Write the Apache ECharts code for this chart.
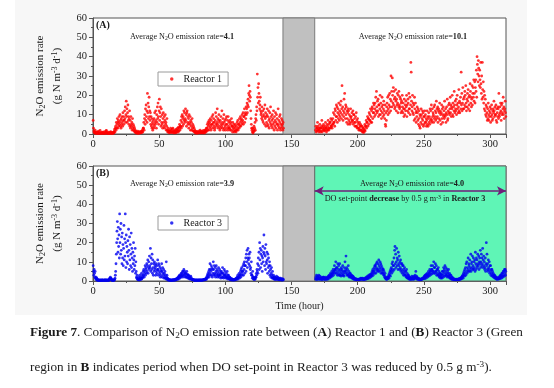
<!DOCTYPE html>
<html><head><meta charset="utf-8">
<script src="https://cdn.jsdelivr.net/npm/echarts@6/dist/echarts.min.js"></script>
<style>html,body{margin:0;padding:0;background:#fff}#c{width:554px;height:388px}</style>
</head><body><div id="c"></div>
<script>
// hours of each block start, values per hour (4 readings per hour)
const r1StartA = 0;
const r1BlockA = [
[7,3,1.5,0.8],[1,0.5,2,0.7],[0.4,0.8,0.3,1],[0.5,0.3,0.9,0.4],[1.5,0.6,0.4,0.3],[0.5,1.8,0.7,0.4],[0.3,0.5,0.8,0.6],[0.4,1,0.5,0.3],[0.6,0.4,1.2,0.5],[0.3,0.8,0.5,1.6],
[1.8,0.7,0.4,0.6],[0.5,0.3,0.9,0.4],[0.4,0.6,0.3,0.8],[0.5,1.2,0.7,0.4],[0.3,0.5,0.6,0.4],[0.8,0.4,1,0.6],[1.5,2.5,1,3],[4,2,6,3],[5,8,3,6],[7,4,9,5],
[6,10,4,7],[3,8,5,9],[6,4,11,7],[9,5,7,12],[8,14,6,10],[17,9,13,6],[11,15,7,9],[5,8,12,4],[7,3,9,5],[4,6,2,8],
[3,5,2,4],[1.5,3,1,2],[0.8,1.5,0.5,1],[0.6,1,0.4,1.5],[0.5,0.8,0.3,1],[0.7,1.2,0.5,0.9],[1,0.6,1.5,0.8],[1.5,2,1,3],[3,6,2,8],[10,5,13,7],
[15,9,12,6],[21,11,16,8],[14,19,9,12],[7,11,5,9],[4,8,3,6],[2,5,7,3],[8,4,11,6],[5,12,7,3],[10,6,14,8],[16,9,5,12],
[18,7,11,14],[9,4,13,6],[5,10,3,8],[11,6,4,9],[3,7,10,5],[6,2,4,8],[2,1,3,1.5],[1,2,0.6,1.5],[0.8,1.5,3,1],[2,0.7,1.2,2.5],
[1,3,0.8,1.5],[0.5,1.2,2,0.8],[1.5,0.6,1,2.5],[0.8,2,1.5,3],[2,1,3.5,1.5],[3,5,2,4],[4,7,3,9],[6,10,4,8],[9,5,12,7],[11,6,8,13],
[7,10,4,11],[12,6,9,5],[8,3,10,6],[5,9,2,7],[4,6,2,8],[3,5,1.5,4],[1.5,3,1,2],[1,0.5,1.5,0.8],[0.6,1.2,0.4,1],[0.8,0.5,1.5,0.7],
[1,0.6,0.9,2],[0.5,1.3,0.8,0.6],[1.5,0.7,1,0.5],[0.8,1.8,0.6,1.2],[1,0.5,2,1.5],[2,1,3,1.5],[3,5,2,6],[4,2,7,5],[6,3,8,4],[2,7,5,9],
[5,3,10,6],[8,4,6,2],[3,7,11,5],[9,4,6,13],[5,8,3,7],[10,4,6,2],[7,3,9,5],[4,12,6,3],[8,5,2,10],[6,3,7,4],
[2,8,5,9],[5,3,7,2],[9,4,6,3],[3,7,2,5],[6,2,8,4],[4,1,6,3],[2,5,1,4],[3,1.5,5,2],[1,4,2,6],[3,7,2,5],
[5,3,8,4],[6,9,4,7],[8,5,10,6],[7,11,5,9],[9,13,6,10],[11,8,14,10],[13,16,11,15],[18,14,21,25],[20,17,22,19],[12,8,5,3],
[2,1,3,0.5],[1,2,4,1.5],[3,6,2,8],[10,7,14,12],[31,19,24,16],[26,21,17,13],[15,19,12,10],[11,8,14,9],[7,12,6,10],[13,9,5,15],
[8,11,4,9],[6,10,13,5],[9,4,12,7],[3,8,11,6],[14,5,9,4],[7,10,3,8],[5,12,6,2],[9,4,7,11],[3,6,10,5],[8,2,5,13],
[4,7,3,9],[6,10,2,5],[3,8,4,7],[5,2,6,3]
];
const r1StartB = 168;
const r1BlockB = [
[2,4,1,3],[1.5,3,6,2],[4,2,1,3],[2,5,3,1],[3,1.5,4,7],[1,3,2,4],[5,2,3,1.5],[2,4,6,3],[3,1,2,5],[4,2,7,3],
[2,5,3,6],[6,3,8,4],[4,7,3,5],[8,5,11,6],[6,10,4,13],[12,7,9,15],[9,14,6,11],[13,8,16,10],[7,12,9,15],[11,17,8,13],
[25,10,14,7],[12,9,18,11],[21,13,8,15],[10,14,6,12],[8,11,5,13],[12,7,10,6],[5,9,13,8],[9,6,11,7],[7,12,5,10],[10,6,8,4],
[6,9,4,11],[4,7,3,8],[6,3,5,2],[3,6,2,4],[5,2,4,1.5],[2,4,1,3],[1,3,0.8,2],[2,5,1.5,4],[4,7,3,6],[6,9,4,8],
[8,5,11,7],[10,7,13,6],[9,12,6,14],[13,8,11,16],[11,15,9,13],[16,10,19,12],[22,14,11,17],[12,18,9,15],[15,10,13,20],[10,16,12,8],
[14,19,11,15],[9,13,17,10],[12,8,15,5],[4,11,7,14],[16,12,19,10],[13,20,15,11],[21,14,18,12],[30,17,22,14],[29,20,16,24],[15,22,18,13],
[19,14,23,17],[12,18,15,21],[16,11,20,14],[22,15,13,19],[14,18,11,16],[17,12,20,14],[11,16,13,9],[18,13,10,15],[12,17,14,20],[9,15,12,18],
[16,11,21,13],[13,19,10,15],[37,32,17,12],[14,20,11,16],[10,15,7,19],[13,8,16,11],[6,12,9,14],[11,7,13,5],[8,12,4,10],[3,9,6,13],
[10,5,8,12],[7,11,4,9],[5,9,12,6],[10,6,8,4],[7,12,5,9],[4,8,11,6],[9,5,13,7],[12,8,15,6],[7,13,9,11],[10,6,14,8],
[15,9,12,7],[11,17,8,13],[9,14,6,12],[13,8,11,16],[7,12,10,5],[11,15,8,13],[6,10,14,9],[12,8,17,10],[9,13,6,11],[14,10,18,7],
[8,12,15,11],[16,10,13,19],[11,15,9,14],[13,20,10,16],[9,14,12,22],[15,11,17,13],[12,18,10,15],[20,13,16,11],[14,23,12,17],[11,16,19,13],
[32,15,21,12],[16,24,13,18],[13,19,15,22],[20,14,25,16],[12,18,14,21],[17,23,13,19],[15,20,12,26],[22,16,19,14],[18,25,15,21],[24,19,28,17],
[21,27,16,24],[28,22,33,19],[40,36,31,27],[38,34,30,25],[33,28,24,37],[26,21,30,18],[37,23,19,27],[16,22,13,20],[12,18,10,15],[9,14,11,7],
[13,8,16,10],[7,12,9,14],[11,6,13,9],[15,10,7,12],[8,13,11,17],[12,9,14,10],[10,15,7,13],[6,11,9,14],[13,8,21,10],[9,14,11,16],
[12,7,15,10],[16,11,13,19],[10,14,8,12],[13,17,11,9]
];
const r3StartA = 0;
const r3BlockA = [
[8,5,3,6],[4,2,5,1.5],[1,2,0.6,1.5],[0.5,0.8,0.3,0.6],[0.4,0.3,0.6,0.5],[0.3,0.5,0.4,0.3],[0.6,0.4,0.3,0.5],[0.4,0.6,0.5,0.3],[0.3,0.5,0.4,0.6],[0.5,0.3,0.6,0.4],
[0.4,0.5,0.3,0.5],[0.6,0.4,0.5,0.3],[0.5,1,1.5,0.8],[2,1.5,0.7,1.2],[0.5,0.4,0.6,0.3],[0.4,0.6,0.3,0.5],[0.5,0.8,1.5,3],[5,9,14,20],[26,31,22,15],[28,18,24,12],
[35,20,27,14],[30,16,23,9],[25,12,19,8],[17,29,11,22],[13,35,20,7],[24,10,18,15],[9,21,13,27],[16,6,23,11],[19,8,14,25],[7,17,12,5],
[15,9,20,11],[6,13,8,17],[4,10,5,2],[1.5,3,0.8,1],[0.6,1.2,2,0.5],[1,3,0.7,1.5],[2,0.8,4,1.2],[1.5,3,2,5],[3,6,2,4],[5,8,3,7],
[6,4,9,5],[8,11,4,7],[10,6,13,8],[7,17,5,12],[9,6,14,4],[11,7,3,9],[5,10,6,8],[7,3,9,5],[4,8,6,11],[6,3,9,5],
[8,4,7,2],[3,6,5,9],[5,2,7,4],[3,6,1.5,4],[2,5,3,1.5],[1,10,2,3],[0.8,1.5,0.5,1],[0.5,0.8,0.4,0.6],[0.4,0.6,0.5,0.3],[0.6,0.5,0.3,0.5],
[0.4,0.7,0.5,0.6],[0.5,0.4,0.8,0.5],[0.7,1,0.5,0.8],[1,1.5,0.8,1.2],[1.5,2,1,2.5],[2,3,1.5,2.5],[3,2,4,2.5],[4,3,5,2],[5,3,6,4],[3,5,2,4],
[4,2,3,5],[2,3.5,1.5,3],[3,1.5,2.5,1],[1.5,2,1,2.5],[1,1.5,0.8,1],[0.6,0.8,0.5,0.7],[0.5,0.6,0.4,0.5],[0.4,0.5,0.6,0.3],[0.5,0.4,0.5,0.6],[0.3,0.5,0.4,0.5],
[0.5,0.6,0.4,0.5],[0.4,0.5,0.6,0.4],[0.5,0.4,0.5,0.6],[0.6,0.5,0.8,0.5],[0.7,1,0.6,0.9],[1,1.5,0.8,2],[1.5,3,2,4],[3,5,2,6],[4,9,3,6],[5,8,3,7],
[2,6,4,10],[6,3,8,4],[3,7,2,5],[8,4,6,3],[2,5,3,7],[4,2,6,3],[3,5,1.5,4],[5,2,4,7],[2,4,1.5,3],[6,3,5,2],
[3,1.5,4,2],[2,5,1,3],[1.5,3,1,2],[1,2,0.6,1.5],[0.8,1,0.5,1.2],[0.6,0.8,0.5,0.7],[0.5,0.6,0.8,0.5],[0.7,1,0.6,1.2],[1,1.5,0.8,2],[1.5,3,1,2],
[2,4,1.5,3],[3,5,2,6],[4,7,3,5],[5,8,3,9],[6,10,4,8],[8,12,5,14],[10,16,7,12],[17,11,9,14],[12,8,15,6],[7,4,10,3],
[3,1.5,5,2],[1,2,0.8,1.5],[0.8,1.5,1,2],[2,4,3,6],[5,9,4,12],[8,15,6,20],[11,17,7,14],[16,9,13,5],[12,18,10,15],[24,14,8,17],
[13,6,19,10],[9,15,11,4],[14,7,12,8],[5,10,3,8],[6,2,4,7],[3,1.5,5,2],[1.5,3,1,2],[1,2,0.8,1.5],[0.8,1.5,2.5,1],[1.5,0.8,2,1],
[0.7,1.2,0.6,1.5],[1,0.6,1.5,0.8],[0.6,1,0.5,1.2],[0.8,0.5,1,0.6]
];
const r3StartB = 168;
const r3BlockB = [
[1,2,0.8,3],[1.5,0.8,2.5,1],[2,1,3,1.5],[1,2.5,0.8,1.5],[1.5,1,2,0.8],[0.8,1.5,1,2],[1,2,1.5,0.8],[1.5,0.8,1.2,2],[1,1.5,0.8,1.2],[1.2,2,1,2.5],
[2,3,1.5,2.5],[2.5,4,2,3.5],[3,5,2.5,4],[4,6,3,5],[5,8,4,6],[6,10,4,7],[5,7,3,9],[4,6,8,3],[5,9,3,6],[4,2.5,7,5],
[6,3,8,4],[3,5,2.5,7],[5,10,4,6],[13,5,7,3],[4,6,3,8],[3,5,2,4],[2.5,4,2,3],[2,3,1.5,2.5],[1.5,2.5,1,2],[1,1.5,0.8,1.2],
[0.8,1.2,0.6,1],[0.6,1,0.8,0.7],[0.7,0.8,1,0.6],[0.8,1,0.7,1.2],[1,1.5,0.8,1.2],[1.2,0.8,1.5,1],[0.8,1.2,1,0.7],[1,1.5,0.8,1.2],[1.2,2,1,1.5],[1.5,2.5,1.2,2],
[2,3,1.5,2.5],[2.5,3.5,2,3],[3,4,2.5,5],[4,6,3,5],[5,7,4,8],[6,8,4,9],[7,5,10,6],[6,9,5,11],[8,5,7,10],[6,9,4,8],
[5,7,4,6],[4,6,3,5],[3,2,4,1.5],[1.5,1,2,0.8],[1,1.5,2,1.2],[2,3,1.5,4],[3,5,2.5,6],[5,7,4,9],[6,10,5,8],[8,12,6,16],
[18,9,14,7],[10,17,8,12],[11,6,15,9],[8,13,6,10],[7,11,5,9],[6,9,4,8],[5,8,3,6],[4,7,3,5],[3,5,2,6],[2,4,1.5,3],
[1.5,3,1,2],[1,2,0.8,1.5],[0.8,1.5,1,2.5],[1,1.5,2,0.8],[1.2,2.5,1,1.5],[2,3,1.5,5],[1.5,2.5,1,2],[1,1.5,0.8,1.2],[0.8,1.2,0.6,1],[0.7,1,0.6,0.8],
[0.8,1.2,1,1.5],[1,1.5,1.2,2],[1.5,2.5,1.2,3],[2,3,1.5,3.5],[2.5,4,2,3],[3,5,2.5,4],[4,6,3,5],[5,8,3.5,6],[6,4,8,5],[5,10,4,7],
[7,4,9,5],[5,8,3,6],[4,6,3,7],[3,5,2,4],[2.5,4,1.5,3],[2,3.5,1.5,5],[3,5,2,7],[4,6,2.5,8],[5,3,7,4],[3,6,2,5],
[4,2.5,6,3],[2,4,1.5,3],[1.5,3,1,2],[1,2,0.8,1.5],[0.8,1.2,0.6,1],[0.7,1,0.8,0.6],[0.8,0.6,1,0.7],[0.6,0.9,0.7,1],[0.8,1.2,0.7,1],[1,1.5,0.8,1.2],
[1.5,2,1.2,2.5],[2,3,1.5,4],[3,5,2.5,6],[4,7,3,9],[5,10,4,7],[6,12,5,9],[8,5,11,7],[6,14,5,9],[10,7,13,6],[8,12,6,10],
[7,11,5,15],[9,6,12,8],[11,7,14,9],[8,13,6,10],[12,9,16,7],[10,14,8,12],[9,17,7,11],[13,8,10,6],[7,12,5,9],[20,8,14,6],
[9,5,11,7],[6,10,4,8],[5,8,3,6],[4,6,2.5,5],[3,4,2,3],[2,3,1.5,2.5],[1.5,2,1,1.8],[1,1.5,0.8,1.2],[1.2,2,1,1.5],[1.5,2.5,1.2,3],
[2,3,1.5,4],[2.5,4,2,5],[3,5,2.5,6],[4,6,3,5]
];
const gapStart = 143.5, gapEnd = 167.5, xMax = 312;
const avgR1 = ['4.1', '10.1'];
const avgR3 = ['3.9', '4.0'];
const arrowY = 47;

function toPoints(start, block) {
  const out = [];
  block.forEach((row, i) => {
    row.forEach((v, j) => out.push([start + i + (j + 0.5) / row.length, v]));
  });
  return out;
}
const r1 = toPoints(r1StartA, r1BlockA).concat(toPoints(r1StartB, r1BlockB));
const r3 = toPoints(r3StartA, r3BlockA).concat(toPoints(r3StartB, r3BlockB));

const F = '"Liberation Serif","Times New Roman",serif';
const TXT = '#1a1a1a';
const AX = '#555';

function richBase(fs) {
  return {
    t: {fontSize: fs, fontFamily: F, fill: TXT, color: TXT},
    b: {fontSize: fs, fontFamily: F, fontWeight: 'bold', fill: TXT, color: TXT},
    s: {fontSize: fs * 0.7, fontFamily: F, fill: TXT, color: TXT, padding: [fs * 0.45, 0, 0, 0]},
    p: {fontSize: fs * 0.7, fontFamily: F, fill: TXT, color: TXT, padding: [0, 0, fs * 0.45, 0]}
  };
}
function txt(x, y, text, fs, align) {
  return {type: 'text', x: x, y: y, z: 100,
    style: {text: text, align: align || 'center', verticalAlign: 'middle', fontSize: fs, fontFamily: F, fill: TXT, rich: richBase(fs)}};
}

function xAxisCfg(gi, withName) {
  const c = {gridIndex: gi, type: 'value', min: 0, max: xMax, interval: 50,
    axisLine: {lineStyle: {color: AX}}, axisTick: {length: 4, lineStyle: {color: AX}},
    minorTick: {show: true, splitNumber: 2, length: 2, lineStyle: {color: AX}},
    splitLine: {show: false},
    axisLabel: {fontFamily: F, fontSize: 10.5, color: TXT, margin: 5, showMaxLabel: false}};
  if (withName) {
    c.name = 'Time (hour)'; c.nameLocation = 'middle'; c.nameGap = 20;
    c.nameTextStyle = {fontFamily: F, fontSize: 10, color: TXT};
  }
  return c;
}
function yAxisCfg(gi) {
  return {gridIndex: gi, type: 'value', min: 0, max: 60, interval: 10,
    axisLine: {show: true, lineStyle: {color: AX}}, axisTick: {show: true, length: 4, lineStyle: {color: AX}},
    minorTick: {show: true, splitNumber: 2, length: 2, lineStyle: {color: AX}},
    splitLine: {show: false},
    axisLabel: {fontFamily: F, fontSize: 10.5, color: TXT, margin: 6},
    name: '{t|N}{s|2}{t|O emission rate}\n{t|(g N m}{p|-3}{t| d}{p|-1}{t|)}',
    nameLocation: 'middle', nameRotate: 90, nameGap: 21,
    nameTextStyle: {fontFamily: F, fontSize: 11, color: TXT, lineHeight: 17,
      rich: {t: {fontSize: 11, fontFamily: F, color: TXT}, s: {fontSize: 8, fontFamily: F, color: TXT, padding: [5,0,0,0]}, p: {fontSize: 8, fontFamily: F, color: TXT, padding: [0,0,5,0]}}}
  };
}
function legendCfg(name, top) {
  return {data: [name], left: 158, top: top, icon: 'circle', itemWidth: 3.5, itemHeight: 3.5,
    borderColor: '#9a9a9a', borderWidth: 1, backgroundColor: '#fff', padding: [2, 6, 2, 12],
    selectedMode: false, textStyle: {fontFamily: F, fontSize: 10, color: TXT, padding: [0, 0, 0, 5]}};
}

const chart = echarts.init(document.getElementById('c'), null, {renderer: 'canvas'});
chart.setOption({
  animation: false,
  backgroundColor: '#fff',
  grid: [
    {left: 93, top: 18, width: 413, height: 116, show: true, backgroundColor: '#fff', borderColor: AX, borderWidth: 1},
    {left: 93, top: 166, width: 413, height: 115, show: true, backgroundColor: '#fff', borderColor: AX, borderWidth: 1}
  ],
  xAxis: [xAxisCfg(0, false), xAxisCfg(1, true)],
  yAxis: [yAxisCfg(0), yAxisCfg(1)],
  legend: [legendCfg('Reactor 1', 72), legendCfg('Reactor 3', 216)],
  graphic: [
    {type: 'rect', shape: {x: 15, y: 0, width: 512, height: 315}, style: {fill: '#f7f7f7'}, z: -10, silent: true},
    txt(96, 25, '{b|(A)}', 10, 'left'),
    txt(96, 173, '{b|(B)}', 10, 'left'),
    txt(182, 37, '{t|Average N}{s|2}{t|O emission rate=}{b|' + avgR1[0] + '}', 8.2),
    txt(413, 37, '{t|Average N}{s|2}{t|O emission rate=}{b|' + avgR1[1] + '}', 8.2),
    txt(182, 184, '{t|Average N}{s|2}{t|O emission rate=}{b|' + avgR3[0] + '}', 8.2),
    txt(412, 184, '{t|Average N}{s|2}{t|O emission rate=}{b|' + avgR3[1] + '}', 8.2),
    txt(405, 199, '{t|DO set-point }{b|decrease}{t| by 0.5 g m}{p|-3}{t| in }{b|Reactor 3}', 8.2),
    txt(30, 333, '{b|Figure 7}{t|. Comparison of N}{s|2}{t|O emission rate between (}{b|A}{t|) Reactor 1 and (}{b|B}{t|) Reactor 3 (Green}', 13.2, 'left'),
    txt(30, 368, '{t|region in }{b|B}{t| indicates period when DO set-point in Reactor 3 was reduced by 0.5 g m}{p|-3}{t|).}', 13.2, 'left')
  ],
  series: [
    {type: 'line', xAxisIndex: 0, yAxisIndex: 0, data: [], z: 1, silent: true,
      markArea: {silent: true, itemStyle: {color: '#c0c0c0', borderColor: '#7a7a7a', borderWidth: 1},
        data: [[{xAxis: gapStart}, {xAxis: gapEnd}]]}},
    {type: 'line', xAxisIndex: 1, yAxisIndex: 1, data: [], z: 1, silent: true,
      markArea: {silent: true, data: [
        [{xAxis: gapStart, itemStyle: {color: '#c0c0c0', borderColor: '#7a7a7a', borderWidth: 1}}, {xAxis: gapEnd}],
        [{xAxis: gapEnd, itemStyle: {color: '#5ff5b6', borderColor: '#6a6a6a', borderWidth: 1}}, {xAxis: xMax}]
      ]}},
    {name: 'Reactor 1', type: 'scatter', xAxisIndex: 0, yAxisIndex: 0, data: r1, symbol: 'circle', symbolSize: 2.8, z: 3,
      itemStyle: {color: '#ff0000'}},
    {name: 'Reactor 3', type: 'scatter', xAxisIndex: 1, yAxisIndex: 1, data: r3, symbol: 'circle', symbolSize: 2.8, z: 3,
      itemStyle: {color: '#0000f0'},
      markLine: {silent: true, symbol: ['arrow', 'arrow'], symbolSize: [7, 9], label: {show: false},
        lineStyle: {color: '#6e1f78', width: 1.5, type: 'solid'},
        data: [[{coord: [gapEnd, arrowY]}, {coord: [xMax, arrowY]}]]}}
  ]
});
</script></body></html>
